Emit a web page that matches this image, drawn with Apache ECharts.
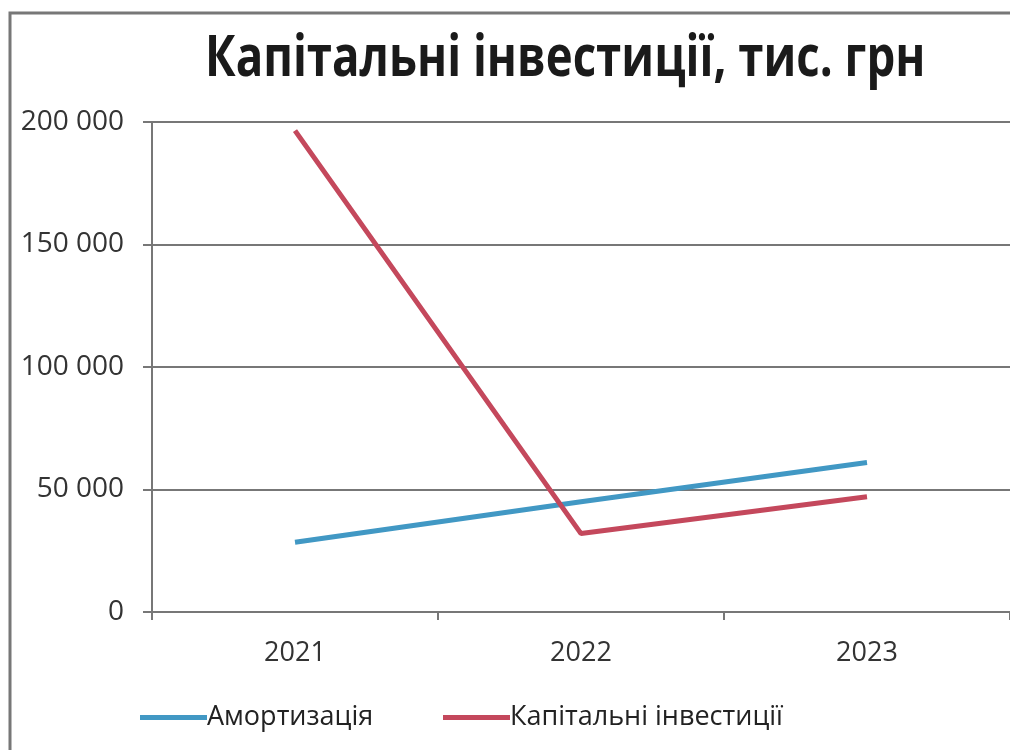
<!DOCTYPE html>
<html><head><meta charset="utf-8">
<script src="https://cdn.jsdelivr.net/npm/echarts@6/dist/echarts.min.js"></script>
<style>html,body{margin:0;padding:0;background:#fff}#c{width:1010px;height:750px}</style>
</head><body><div id="c"></div>
<script>
const categories = ['2021', '2022', '2023'];
const amortization = [28500, 45000, 61000];
const capitalInvestment = [196500, 32000, 47000];
const yTicks = [0, 50000, 100000, 150000, 200000];
const seriesNames = ['Амортизація', 'Капітальні інвестиції'];
const titleText = 'Капітальні інвестиції, тис. грн';

const chart = echarts.init(document.getElementById('c'));
const fmt = v => String(v).replace(/\B(?=(\d{3})+(?!\d))/g, ' ');
const legendText = {fontFamily: 'Open Sans', fontSize: 27, color: '#222', padding: [0,0,0,-5]};
chart.setOption({
  animation: false,
  backgroundColor: '#fff',
  graphic: [{
    type: 'rect', shape: {x: 10, y: 13, width: 1010, height: 750},
    style: {fill: 'none', stroke: '#777', lineWidth: 3}, silent: true
  }, {
    type: 'text', x: 205, y: 60, scaleX: 0.8, silent: true,
    style: {text: titleText, font: 'bold 57px "Open Sans"', fill: '#1a1a1a',
            textAlign: 'left', textVerticalAlign: 'middle', verticalAlign: 'middle'}
  }],
  legend: [{
    left: 135, top: 699, itemWidth: 67, itemHeight: 5, icon: 'rect',
    textStyle: legendText, data: [seriesNames[0]]
  }, {
    left: 438, top: 699, itemWidth: 67, itemHeight: 5, icon: 'rect',
    textStyle: legendText, data: [seriesNames[1]]
  }],
  grid: {left: 152, right: 0, top: 122, bottom: 138, containLabel: false},
  xAxis: {
    type: 'category', data: categories, boundaryGap: true,
    axisLine: {lineStyle: {color: '#777', width: 2}},
    axisTick: {show: true, length: 8, lineStyle: {color: '#777', width: 2}},
    axisLabel: {fontFamily: 'Open Sans', fontSize: 27, color: '#333', margin: 28}
  },
  yAxis: {
    type: 'value', min: yTicks[0], max: yTicks[yTicks.length-1], interval: 50000,
    axisLine: {show: true, lineStyle: {color: '#777', width: 2}},
    axisTick: {show: true, length: 9, lineStyle: {color: '#777', width: 2}},
    splitLine: {lineStyle: {color: '#777', width: 2}},
    axisLabel: {fontFamily: 'Open Sans', fontSize: 28, color: '#333', margin: 28, formatter: fmt}
  },
  series: [
    {name: seriesNames[0], type: 'line', data: amortization, symbol: 'none',
     lineStyle: {width: 5, color: '#4198C4'}, itemStyle: {color: '#4198C4'}},
    {name: seriesNames[1], type: 'line', data: capitalInvestment, symbol: 'none',
     lineStyle: {width: 5, color: '#C4485C'}, itemStyle: {color: '#C4485C'}}
  ]
});
</script></body></html>
